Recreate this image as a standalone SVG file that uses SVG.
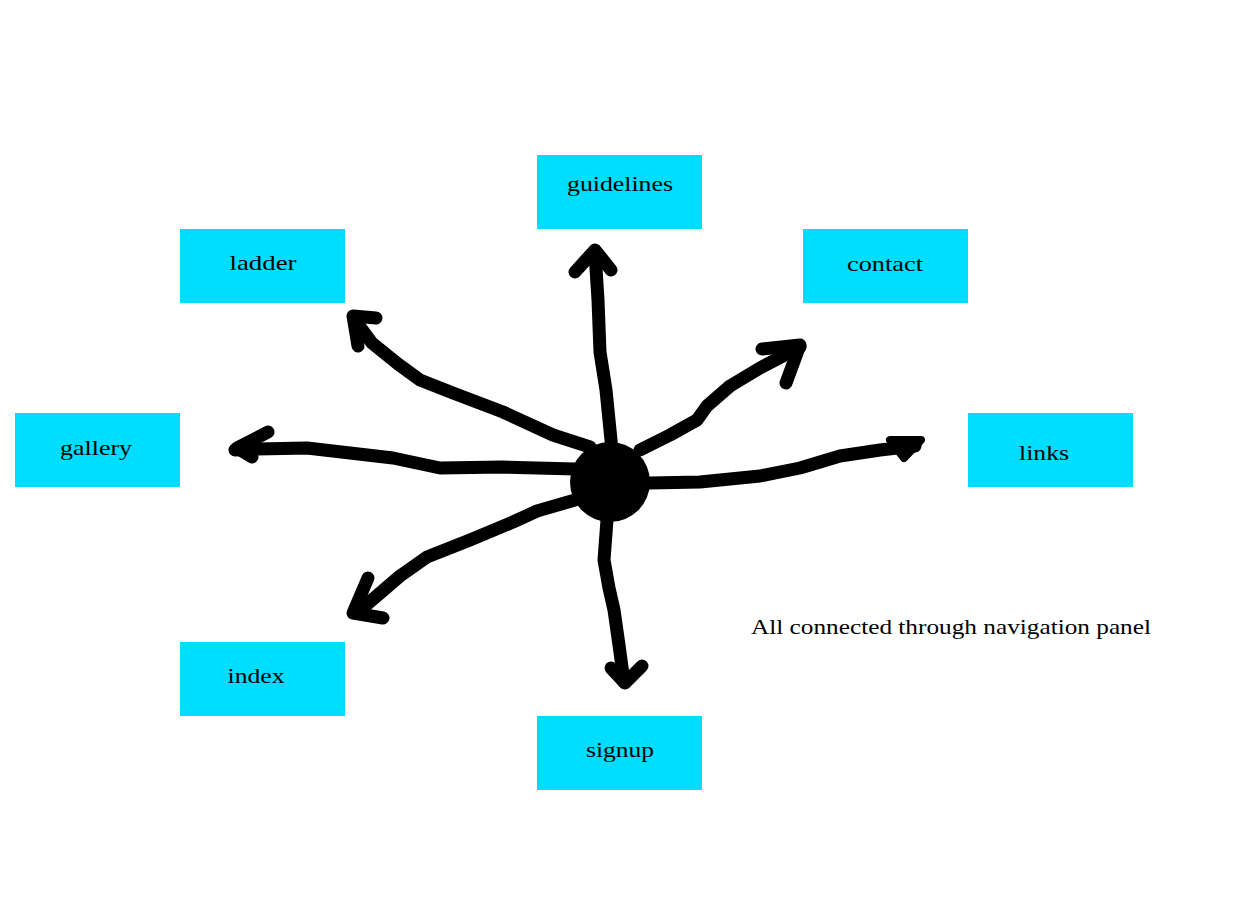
<svg xmlns="http://www.w3.org/2000/svg" width="1240" height="900" viewBox="0 0 1240 900">
<style>
.box{fill:#00DDFF}
.lbl{font-family:"Liberation Serif","DejaVu Serif",serif;font-size:22px;fill:#000;text-anchor:middle}
.ln{fill:none;stroke:#000;stroke-width:13;stroke-linecap:round;stroke-linejoin:round}
</style>
<rect width="1240" height="900" fill="#fff"/>
<g id="guidelines"><rect class="box" x="537" y="155" width="165" height="74"/><text class="lbl" x="620" y="191" textLength="106" lengthAdjust="spacingAndGlyphs">guidelines</text></g>
<g id="ladder"><rect class="box" x="180" y="229" width="165" height="74"/><text class="lbl" x="263" y="270" textLength="67" lengthAdjust="spacingAndGlyphs">ladder</text></g>
<g id="contact"><rect class="box" x="803" y="229" width="165" height="74"/><text class="lbl" x="885" y="271" textLength="76" lengthAdjust="spacingAndGlyphs">contact</text></g>
<g id="gallery"><rect class="box" x="15" y="413" width="165" height="74"/><text class="lbl" x="96" y="455" textLength="72" lengthAdjust="spacingAndGlyphs">gallery</text></g>
<g id="links"><rect class="box" x="968" y="413" width="165" height="74"/><text class="lbl" x="1044" y="460" textLength="50" lengthAdjust="spacingAndGlyphs">links</text></g>
<g id="index"><rect class="box" x="180" y="642" width="165" height="74"/><text class="lbl" x="256" y="683" textLength="57" lengthAdjust="spacingAndGlyphs">index</text></g>
<g id="signup"><rect class="box" x="537" y="716" width="165" height="74"/><text class="lbl" x="620" y="757" textLength="68" lengthAdjust="spacingAndGlyphs">signup</text></g>
<g id="note"><text class="lbl" x="951" y="634" textLength="400" lengthAdjust="spacingAndGlyphs">All connected through navigation panel</text></g>
<g id="connectors">
<path class="ln" d="M612,450 L606,390 L600,352 L598,300 L595,252"/>
<polyline class="ln" points="575,272 595,250 611,270"/>
<path class="ln" d="M640,450 L670,435 L697,420 L707,406 L730,386 L760,368 L800,347"/>
<polyline class="ln" points="762,349 800,345 786,383"/>
<path class="ln" d="M650,483 L700,482 L760,476 L800,468 L840,456 L880,450 L915,446"/>
<path d="M890,440 L921,440 L904,458 Z" fill="#000" stroke="#000" stroke-width="8" stroke-linejoin="round"/>
<path class="ln" d="M607,520 L604,560 L609,588 L614,610 L619,645 L624,682"/>
<polyline class="ln" points="611,668 625,683 642,666"/>
<path class="ln" d="M575,500 L537,511 L513,522 L470,540 L427,557 L400,576 L358,612"/>
<polyline class="ln" points="368,578 353,613 383,618"/>
<path class="ln" d="M575,469 L503,467 L440,468 L393,458 L307,448 L257,449 L235,450"/>
<polyline class="ln" points="268,432 237,448 252,457"/>
<path class="ln" d="M590,447 L553,435 L503,412 L453,393 L420,380 L398,364 L372,343 L355,320"/>
<polyline class="ln" points="376,318 353,316 358,346"/>
</g>
<circle id="hub" cx="610" cy="482" r="40" fill="#000"/>
</svg>
